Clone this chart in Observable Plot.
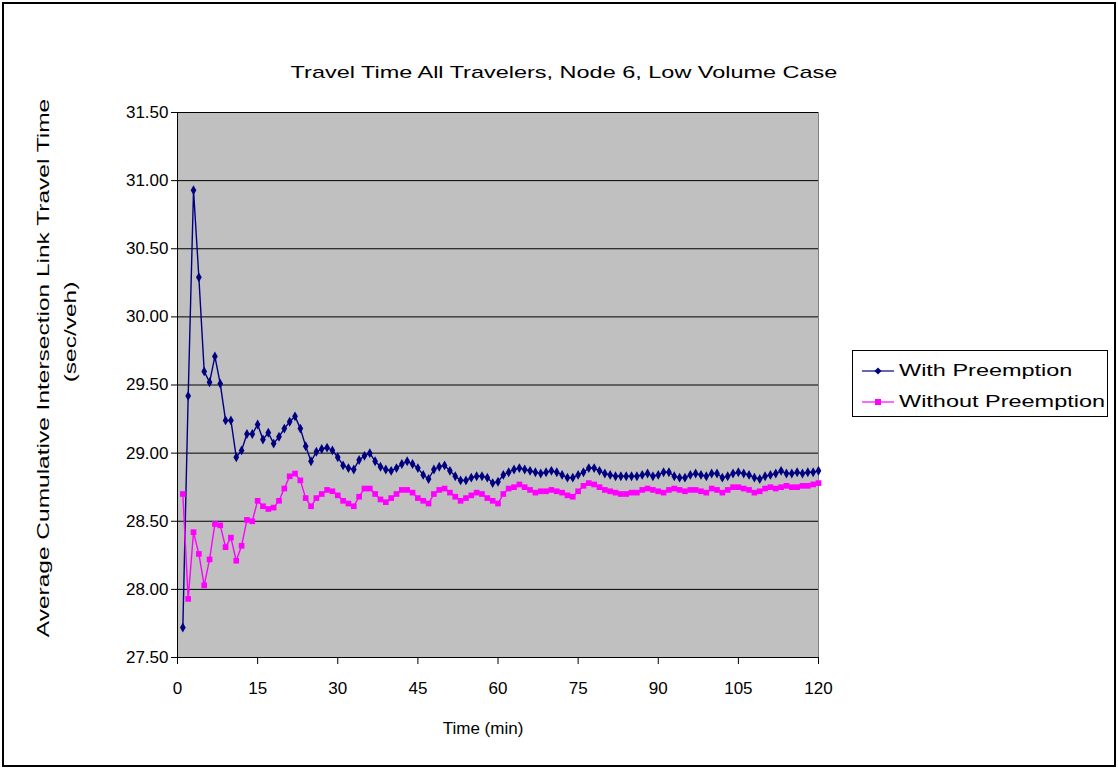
<!DOCTYPE html>
<html>
<head>
<meta charset="utf-8">
<script src="https://cdn.jsdelivr.net/npm/d3@7"></script>
<script src="https://cdn.jsdelivr.net/npm/@observablehq/plot@0.6"></script>
<style>
  html, body { margin: 0; padding: 0; background: #fff; }
  #chart { position: relative; width: 1118px; height: 769px; overflow: hidden;
           font-family: "Liberation Sans", Arial, sans-serif; color: #000; }
  #border { position: absolute; left: 2px; top: 2px; width: 1110px; height: 761px;
            border: 2px solid #000; pointer-events: none; }
  #plot { position: absolute; left: 0; top: 0; }
  .title { position: absolute; left: 564px; top: 73px; width: 0; height: 0; }
  .title span { position: absolute; transform: translate(-50%, -50%) scaleX(1.38);
                white-space: nowrap; font-size: 17px; }
  .xlabel { position: absolute; left: 0; width: 966px; top: 719px; text-align: center;
            font-size: 17px; white-space: nowrap; }
  .ylabel { position: absolute; left: 56px; top: 0; width: 0; height: 0; }
  .ylabel div { position: absolute; transform: translate(-50%, -50%) rotate(-90deg) scaleX(1.44);
                white-space: nowrap; font-size: 17px; }
  #legend { position: absolute; left: 852px; top: 350px; width: 256px; height: 67px;
            border: 1px solid #000; background: #fff; box-sizing: border-box;
            font-size: 17px; }
  #legend .row { position: absolute; left: 9px; height: 24px; display: flex; align-items: center; }
  #legend svg { margin-right: 5px; }
  #legend span { display: inline-block; transform: scaleX(1.38); transform-origin: left center; white-space: nowrap; }
</style>
</head>
<body>
<div id="chart">
  <div id="plot"></div>
  <div class="title"><span>Travel Time All Travelers, Node 6, Low Volume Case</span></div>
  <div class="ylabel">
    <div style="left:-12px;top:368px">Average Cumulative Intersection Link Travel Time</div>
    <div style="left:15px;top:332px">(sec/veh)</div>
  </div>
  <div class="xlabel">Time (min)</div>
  <div id="legend"></div>
  <div id="border"></div>
</div>
<script>
// Simulation minutes (one observation per minute)
const minutes = d3.range(1, 121);

// Average cumulative intersection link travel time (sec/veh), with signal preemption
const withPreemption = [
  27.72, 29.42, 30.93, 30.29, 29.60, 29.52, 29.71, 29.51, 29.24, 29.24,
  28.97, 29.02, 29.14, 29.14, 29.21, 29.10, 29.15, 29.07, 29.12, 29.18,
  29.23, 29.27, 29.18, 29.05, 28.94, 29.01, 29.03, 29.04, 29.02, 28.97,
  28.91, 28.89, 28.88, 28.95, 28.98, 29.00, 28.94, 28.90, 28.88, 28.87,
  28.89, 28.92, 28.94, 28.92, 28.89, 28.84, 28.81, 28.88, 28.90, 28.91,
  28.87, 28.83, 28.80, 28.80, 28.82, 28.83, 28.83, 28.82, 28.78, 28.79,
  28.84, 28.86, 28.88, 28.89, 28.88, 28.87, 28.86, 28.85, 28.86, 28.87,
  28.86, 28.84, 28.82, 28.82, 28.84, 28.86, 28.89, 28.89, 28.87, 28.85,
  28.84, 28.83, 28.83, 28.83, 28.83, 28.83, 28.84, 28.85, 28.83, 28.84,
  28.86, 28.86, 28.83, 28.82, 28.82, 28.84, 28.85, 28.84, 28.83, 28.85,
  28.85, 28.82, 28.83, 28.85, 28.86, 28.85, 28.84, 28.82, 28.81, 28.83,
  28.84, 28.85, 28.87, 28.85, 28.85, 28.86, 28.85, 28.86, 28.86, 28.87
];

// Same measure without preemption
const withoutPreemption = [
  28.70, 27.93, 28.42, 28.26, 28.03, 28.22, 28.48, 28.47, 28.31, 28.38,
  28.21, 28.32, 28.51, 28.50, 28.65, 28.61, 28.59, 28.60, 28.65, 28.74,
  28.83, 28.85, 28.80, 28.67, 28.61, 28.67, 28.70, 28.73, 28.72, 28.69,
  28.65, 28.63, 28.61, 28.68, 28.74, 28.74, 28.70, 28.66, 28.64, 28.67,
  28.70, 28.73, 28.73, 28.71, 28.67, 28.65, 28.63, 28.70, 28.73, 28.74,
  28.71, 28.68, 28.65, 28.67, 28.69, 28.71, 28.70, 28.67, 28.65, 28.63,
  28.70, 28.74, 28.75, 28.77, 28.75, 28.73, 28.71, 28.72, 28.72, 28.73,
  28.72, 28.71, 28.69, 28.68, 28.72, 28.76, 28.78, 28.77, 28.75, 28.73,
  28.72, 28.71, 28.70, 28.70, 28.71, 28.71, 28.73, 28.74, 28.73, 28.72,
  28.71, 28.73, 28.74, 28.73, 28.72, 28.73, 28.73, 28.72, 28.71, 28.74,
  28.73, 28.71, 28.73, 28.75, 28.75, 28.74, 28.73, 28.71, 28.72, 28.74,
  28.75, 28.74, 28.75, 28.76, 28.75, 28.75, 28.76, 28.76, 28.77, 28.78
];

const seriesNames = ["With Preemption", "Without Preemption"];
const seriesColors = ["#000080", "#ff00ff"];
const xTicks = [0, 15, 30, 45, 60, 75, 90, 105, 120];
const yTicks = [27.5, 28.0, 28.5, 29.0, 29.5, 30.0, 30.5, 31.0, 31.5];

const rowsWith = minutes.map((t, i) => ({t, v: withPreemption[i]}));
const rowsWithout = minutes.map((t, i) => ({t, v: withoutPreemption[i]}));

const chart = Plot.plot({
  width: 1118,
  height: 769,
  marginLeft: 177,
  marginRight: 300,
  marginTop: 112,
  marginBottom: 112,
  style: {fontFamily: '"Liberation Sans", Arial, sans-serif', fontSize: "17px", color: "#000", background: "transparent"},
  x: {domain: [0, 120]},
  y: {domain: [27.5, 31.5]},
  marks: [
    Plot.frame({fill: "#c0c0c0", stroke: "#808080"}),
    Plot.ruleY(yTicks, {stroke: "#000", strokeWidth: 1}),
    Plot.ruleX([0], {stroke: "#000"}),
    Plot.axisX({ticks: xTicks, tickSize: 7, tickPadding: 17, label: null, tickFormat: d => String(d)}),
    Plot.axisY({ticks: yTicks, tickSize: 6, tickPadding: 3, label: null, tickFormat: d3.format(".2f")}),
    Plot.line(rowsWith, {x: "t", y: "v", stroke: seriesColors[0], strokeWidth: 1.4}),
    Plot.dot(rowsWith, {x: "t", y: "v", symbol: "diamond", r: 3, fill: seriesColors[0], stroke: null}),
    Plot.line(rowsWithout, {x: "t", y: "v", stroke: seriesColors[1], strokeWidth: 1.4}),
    Plot.dot(rowsWithout, {x: "t", y: "v", symbol: "square", r: 3.2, fill: seriesColors[1], stroke: null})
  ]
});
document.getElementById("plot").appendChild(chart);

// Legend: one row per series, a short line with the series marker, then its name
const legend = document.getElementById("legend");
seriesNames.forEach((name, i) => {
  const row = document.createElement("div");
  row.className = "row";
  row.style.top = (8 + i * 31) + "px";
  const marker = i === 0
    ? `<path d="M16,1.5 L19.5,5 L16,8.5 L12.5,5 Z" fill="${seriesColors[i]}"/>`
    : `<rect x="13" y="2" width="6" height="6" fill="${seriesColors[i]}"/>`;
  row.innerHTML = `<svg width="32" height="10"><line x1="0" x2="32" y1="5" y2="5" stroke="${seriesColors[i]}" stroke-width="1.2"/>${marker}</svg><span>${name}</span>`;
  legend.appendChild(row);
});
</script>
</body>
</html>
